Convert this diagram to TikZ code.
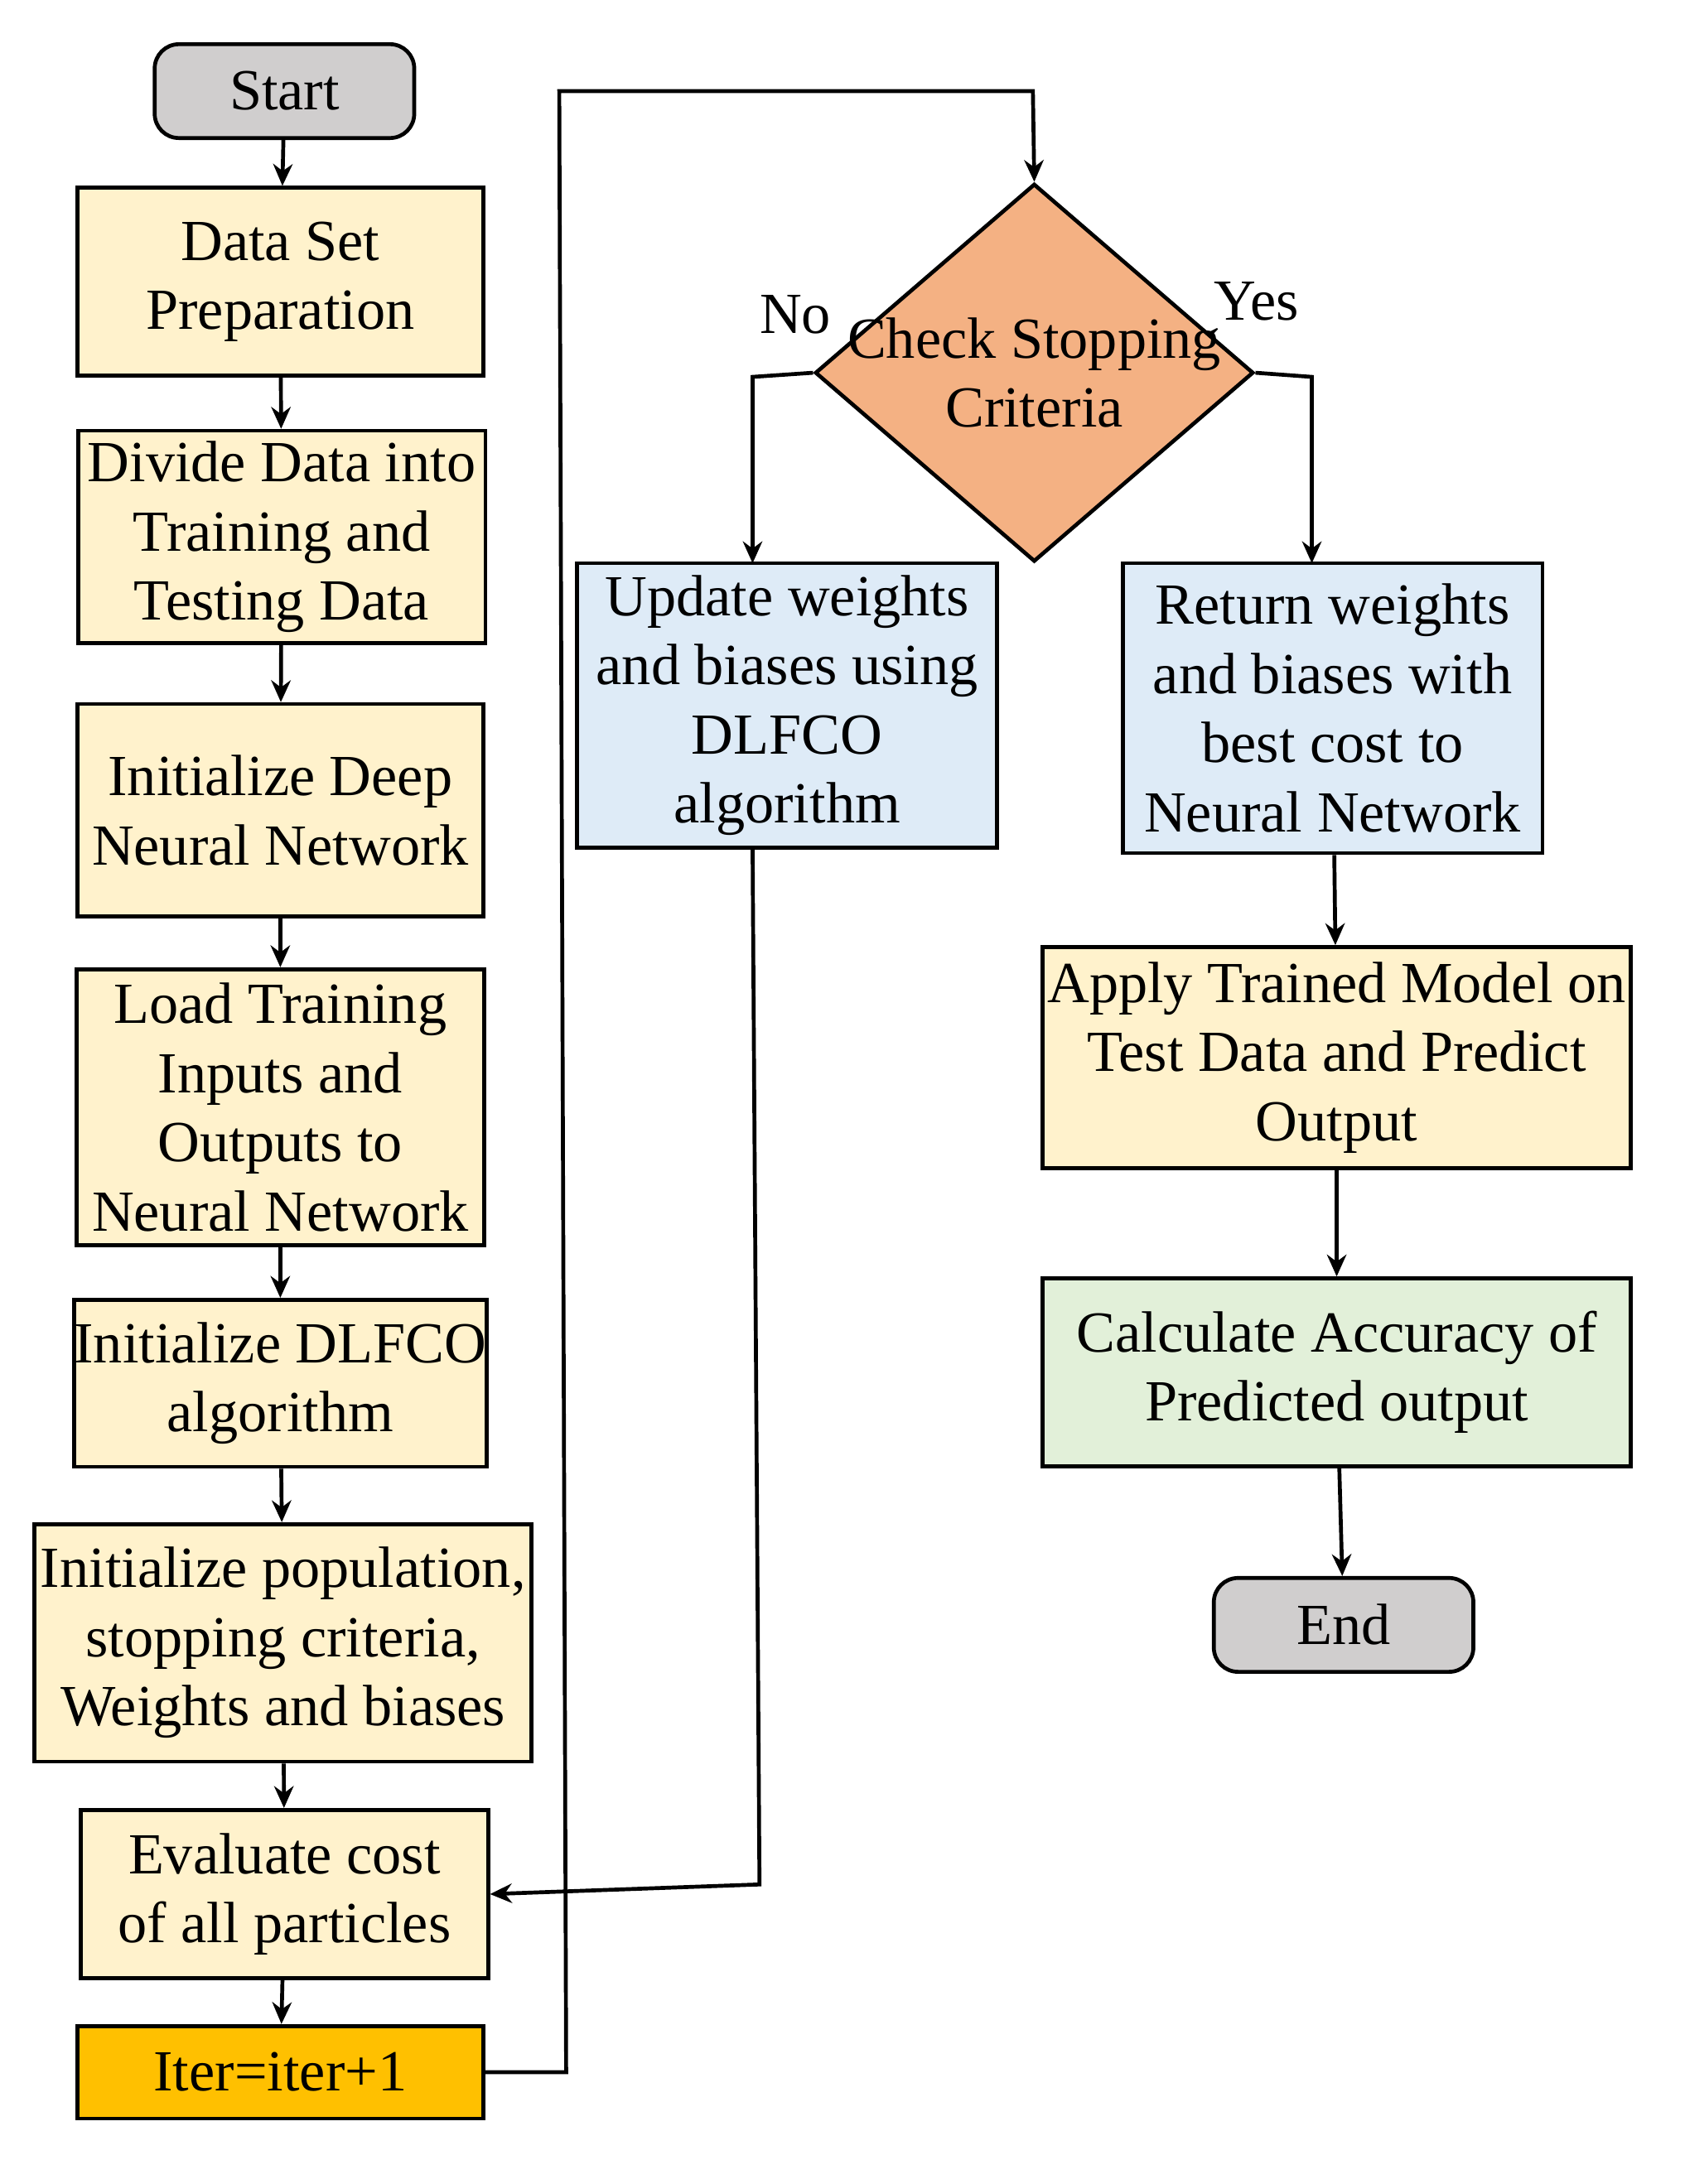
\documentclass[tikz,border=0pt]{standalone}
\usepackage{fontspec}
\setmainfont{Liberation Serif}
\usetikzlibrary{shapes.geometric,arrows.meta}
\definecolor{boxyellow}{HTML}{FFF2CC}
\definecolor{boxblue}{HTML}{DEEBF7}
\definecolor{boxgreen}{HTML}{E2F0D9}
\definecolor{boxsalmon}{HTML}{F4B183}
\definecolor{boxorange}{HTML}{FFC000}
\definecolor{boxgray}{HTML}{D0CECE}
\begin{document}
\begin{tikzpicture}[x=0.02cm,y=-0.02cm,line width=1.6pt,>={Stealth[length=9pt,width=8pt]}]
    \tikzstyle{block}=[draw=black, align=center, inner sep=0pt, font=\fontsize{24}{28.5}\selectfont]
    \tikzstyle{process}=[block, fill=boxyellow]
    \tikzstyle{terminal}=[block, fill=boxgray, rounded corners=10pt, minimum width=3.76cm, minimum height=1.36cm]
    \tikzstyle{link}=[->, draw=black]

    \useasboundingbox (0,0) rectangle (1220,1582);

    % Left column
    \node[terminal] (start) at (206,66) {Start};
    \node[process, minimum width=5.88cm, minimum height=2.72cm] (prep) at (203,204) {Data Set\\Preparation};
    \node[process, minimum width=5.9cm, minimum height=3.08cm] (divide) at (204,389) {Divide Data into\\Training and\\Testing Data};
    \node[process, minimum width=5.88cm, minimum height=3.08cm] (initdnn) at (203,587) {Initialize Deep\\Neural Network};
    \node[process, minimum width=5.9cm, minimum height=4cm] (load) at (203,802) {Load Training\\Inputs and\\Outputs to\\Neural Network};
    \node[process, minimum width=5.9cm, minimum height=2.42cm] (initalg) at (203,1002) {Initialize DLFCO\\algorithm};
    \node[process, minimum width=7.2cm, minimum height=3.44cm] (initpop) at (205,1190) {Initialize population,\\stopping criteria,\\Weights and biases};
    \node[process, minimum width=5.9cm, minimum height=2.44cm] (eval) at (206,1372) {Evaluate cost\\of all particles};
    \node[block, fill=boxorange, minimum width=5.88cm, minimum height=1.34cm] (iter) at (203,1501) {Iter=iter+1};

    % Right part
    \node[block, fill=boxsalmon, diamond, aspect=1.16, inner sep=-6pt, minimum width=5.9cm, minimum height=5.1cm] (check) at (749,270) {Check Stopping\\Criteria};
    \node[block, fill=boxblue, minimum width=6.08cm, minimum height=4.12cm] (update) at (570,511) {Update weights\\and biases using\\DLFCO\\algorithm};
    \node[block, fill=boxblue, minimum width=6.08cm, minimum height=4.2cm] (return) at (965,513) {Return weights\\and biases with\\best cost to\\Neural Network};
    \node[process, minimum width=8.52cm, minimum height=3.2cm] (apply) at (968,766) {Apply Trained Model on\\Test Data and Predict\\Output};
    \node[block, fill=boxgreen, minimum width=8.52cm, minimum height=2.72cm] (accuracy) at (968,994) {Calculate Accuracy of\\Predicted output};
    \node[terminal] (end) at (973,1177) {End};

    % Connections
    \foreach \source/\dest in {start/prep,prep/divide,divide/initdnn,initdnn/load,load/initalg,initalg/initpop,initpop/eval,eval/iter,return/apply,apply/accuracy,accuracy/end}
        \draw[link] (\source) -- (\dest);

    \draw[link] (iter.east) -- (410,1501) -- (405,66) -- (748,66) -- (check.north);
    \draw[link] (check.west) -- (545,273) -- (545,408);
    \draw[link] (check.east) -- (950,273) -- (950,408);
    \draw[link] (545,614) -- (550,1365) -- (eval.east);

    \node[font=\fontsize{24}{28.5}\selectfont] (no) at (576,228) {No};
    \node[font=\fontsize{24}{28.5}\selectfont] (yes) at (910,218) {Yes};
\end{tikzpicture}
\end{document}
